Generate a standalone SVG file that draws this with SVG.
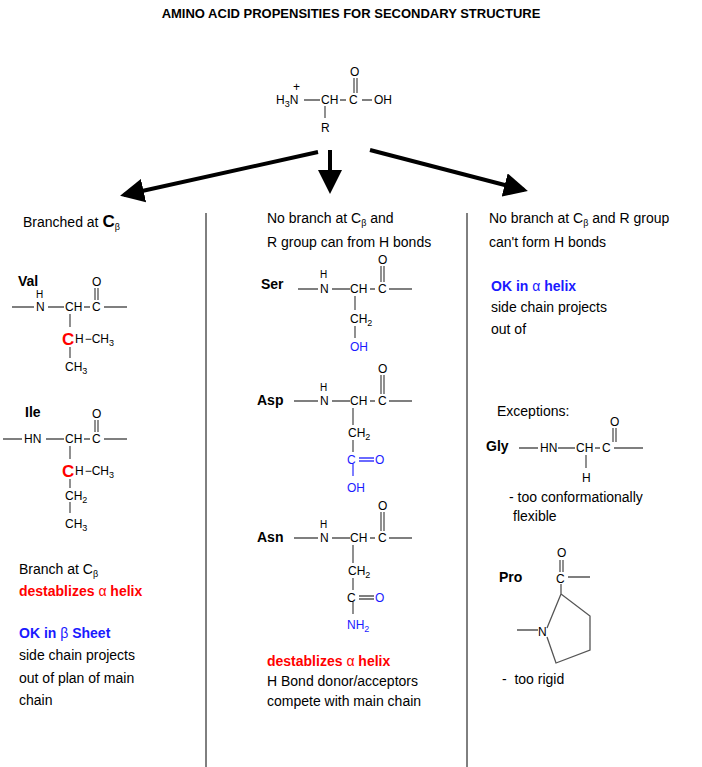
<svg xmlns="http://www.w3.org/2000/svg" width="702" height="767" viewBox="0 0 702 767">
<style>
text{font-family:"Liberation Sans",Arial,sans-serif;fill:#000}
.t{font-size:14px}
.c{font-size:12px}
.b{font-weight:bold}
.s{font-size:9px}
.h{font-size:10px}
.red{fill:#f00}
.blue{fill:#1a1aff}
.bd{stroke:#555;stroke-width:1.3;fill:none}
.bb{stroke:#3a3aff;stroke-width:1.3;fill:none}
.div{stroke:#000;stroke-width:1}
</style>
<defs>
<marker id="ah" markerWidth="6" markerHeight="6" refX="5" refY="3" orient="auto" markerUnits="strokeWidth"><path d="M0,0 L6,3 L0,6 z" fill="#000"/></marker>
</defs>
<rect width="702" height="767" fill="#fff"/>
<text x="351" y="18" text-anchor="middle" class="b" style="font-size:13px">AMINO ACID PROPENSITIES FOR SECONDARY STRUCTURE</text>

<g id="top">
<text x="276" y="104" class="c">H<tspan class="s" dy="3">3</tspan><tspan dy="-3">N</tspan></text>
<text x="293" y="91" class="c">+</text>
<path class="bd" d="M304,100 H320 M340,100 H346 M362,100 H372 M354,78 V93 M357,78 V93 M325,106 V118"/>
<text x="321" y="104" class="c">CH</text>
<text x="349" y="104" class="c">C</text>
<text x="350" y="76" class="c">O</text>
<text x="374" y="104" class="c">OH</text>
<text x="321" y="132" class="c">R</text>
</g>

<g id="connectors">
<line x1="318" y1="152" x2="124" y2="195" stroke="#000" stroke-width="4" marker-end="url(#ah)"/>
<line x1="330" y1="150" x2="330" y2="190" stroke="#000" stroke-width="4" marker-end="url(#ah)"/>
<line x1="370" y1="150" x2="524" y2="190" stroke="#000" stroke-width="4" marker-end="url(#ah)"/>
<line class="div" x1="206" y1="213" x2="206" y2="767"/>
<line class="div" x1="467" y1="213" x2="467" y2="767"/>
</g>

<g id="left">
<text x="23" y="227" class="t">Branched at <tspan class="b" style="font-size:17px">C</tspan><tspan class="s" dy="3">β</tspan></text>
<g id="val">
<text x="18" y="286" class="t b">Val</text>
<text x="36" y="298" class="h">H</text>
<path class="bd" d="M12,307 H34 M48,307 H64 M84,307 H90 M104,307 H127 M95,288 V300 M98,288 V300 M70,314 V327 M70,347 V358"/>
<text x="36" y="311" class="c">N</text>
<text x="65" y="311" class="c">CH</text>
<text x="92" y="311" class="c">C</text>
<text x="92" y="286" class="c">O</text>
<text x="62" y="345" class="b red" style="font-size:17px">C</text>
<text x="75" y="343" class="c">H<tspan dx="1">−</tspan>CH<tspan class="s" dy="3">3</tspan></text>
<text x="65" y="371" class="c">CH<tspan class="s" dy="3">3</tspan></text>
</g>
<g id="ile">
<text x="25" y="417" class="t b">Ile</text>
<path class="bd" d="M3,439 H22 M46,439 H64 M84,439 H90 M104,439 H127 M95,420 V432 M98,420 V432 M70,446 V459 M70,479 V488 M70,502 V513"/>
<text x="24" y="443" class="c">HN</text>
<text x="65" y="443" class="c">CH</text>
<text x="92" y="443" class="c">C</text>
<text x="92" y="418" class="c">O</text>
<text x="62" y="477" class="b red" style="font-size:17px">C</text>
<text x="75" y="475" class="c">H<tspan dx="1">−</tspan>CH<tspan class="s" dy="3">3</tspan></text>
<text x="65" y="500" class="c">CH<tspan class="s" dy="3">2</tspan></text>
<text x="65" y="528" class="c">CH<tspan class="s" dy="3">3</tspan></text>
</g>
<text x="19" y="574" class="t">Branch at C<tspan class="s" dy="3">β</tspan></text>
<text x="19" y="596" class="t b red">destablizes <tspan style="font-weight:normal">α</tspan> helix</text>
<text x="19" y="638" class="t b blue">OK in <tspan style="font-weight:normal">β</tspan> Sheet</text>
<text x="19" y="660" class="t">side chain projects</text>
<text x="19" y="683" class="t">out of plan of main</text>
<text x="19" y="705" class="t">chain</text>
</g>

<g id="middle">
<text x="267" y="223" class="t">No branch at C<tspan class="s" dy="3">β</tspan><tspan dy="-3"> and</tspan></text>
<text x="267" y="247" class="t">R group can from H bonds</text>
<g id="ser">
<text x="261" y="289" class="t b">Ser</text>
<text x="320" y="278" class="h">H</text>
<path class="bd" d="M298,289 H318 M332,289 H350 M370,289 H375 M389,289 H412 M381,266 V282 M384,266 V282 M355,296 V310 M355,326 V338"/>
<text x="320" y="293" class="c">N</text>
<text x="350" y="293" class="c">CH</text>
<text x="378" y="293" class="c">C</text>
<text x="378" y="264" class="c">O</text>
<text x="350" y="323" class="c">CH<tspan class="s" dy="3">2</tspan></text>
<text x="350" y="351" class="c blue">OH</text>
</g>
<g id="asp">
<text x="257" y="405" class="t b">Asp</text>
<text x="320" y="391" class="h">H</text>
<path class="bd" d="M294,401 H318 M332,401 H350 M370,401 H375 M389,401 H412 M381,375 V394 M384,375 V394 M353,408 V425 M353,440 V452"/>
<text x="320" y="405" class="c">N</text>
<text x="350" y="405" class="c">CH</text>
<text x="378" y="405" class="c">C</text>
<text x="378" y="373" class="c">O</text>
<text x="348" y="437" class="c">CH<tspan class="s" dy="3">2</tspan></text>
<path class="bb" d="M359,458 H374 M359,461 H374 M353,464 V476"/>
<text x="347" y="464" class="c blue">C</text>
<text x="375" y="464" class="c blue">O</text>
<text x="347" y="492" class="c blue">OH</text>
</g>
<g id="asn">
<text x="257" y="542" class="t b">Asn</text>
<text x="320" y="528" class="h">H</text>
<path class="bd" d="M294,538 H318 M332,538 H350 M370,538 H375 M389,538 H412 M381,512 V531 M384,512 V531 M353,545 V563 M353,578 V590 M353,602 V614"/>
<text x="320" y="542" class="c">N</text>
<text x="350" y="542" class="c">CH</text>
<text x="378" y="542" class="c">C</text>
<text x="378" y="510" class="c">O</text>
<text x="348" y="575" class="c">CH<tspan class="s" dy="3">2</tspan></text>
<path class="bd" d="M359,596 H374 M359,599 H374"/>
<text x="347" y="602" class="c">C</text>
<text x="375" y="602" class="c blue">O</text>
<text x="347" y="629" class="c blue">NH<tspan class="s" dy="3">2</tspan></text>
</g>
<text x="267" y="666" class="t b red">destablizes <tspan style="font-weight:normal">α</tspan> helix</text>
<text x="267" y="686" class="t">H Bond donor/acceptors</text>
<text x="267" y="706" class="t">compete with main chain</text>
</g>

<g id="right">
<text x="489" y="223" class="t">No branch at C<tspan class="s" dy="3">β</tspan><tspan dy="-3"> and R group</tspan></text>
<text x="489" y="247" class="t">can't form H bonds</text>
<text x="491" y="291" class="t b blue">OK in <tspan style="font-weight:normal">α</tspan> helix</text>
<text x="491" y="312" class="t">side chain projects</text>
<text x="491" y="334" class="t">out of</text>
<text x="497" y="416" class="t">Exceptions:</text>
<g id="gly">
<text x="486" y="451" class="t b">Gly</text>
<path class="bd" d="M519,448 H538 M558,448 H575 M595,448 H600 M614,448 H643 M613,428 V442 M616,428 V442 M586,455 V468"/>
<text x="540" y="452" class="c">HN</text>
<text x="576" y="452" class="c">CH</text>
<text x="602" y="452" class="c">C</text>
<text x="610" y="426" class="c">O</text>
<text x="582" y="482" class="c">H</text>
</g>
<text x="509" y="502" class="t">- too conformationally</text>
<text x="513" y="521" class="t">flexible</text>
<g id="pro">
<text x="499" y="582" class="t b">Pro</text>
<text x="557" y="557" class="c">O</text>
<path class="bd" d="M560,560 V572 M563,560 V572 M568,577 H590 M561,584 V594 L590,616 L590,650 L556,663 L547,637 M547,628 L561,594 M517,630 H538"/>
<text x="556" y="583" class="c">C</text>
<text x="538" y="636" class="c">N</text>
</g>
<text x="502" y="684" class="t" xml:space="preserve">-  too rigid</text>
</g>
</svg>
